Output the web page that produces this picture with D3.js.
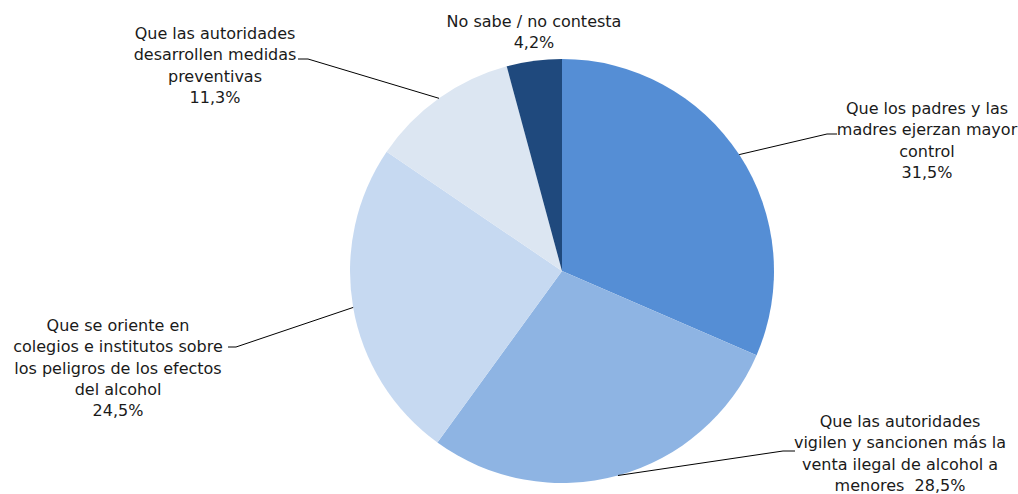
<!DOCTYPE html>
<html>
<head>
<meta charset="utf-8">
<script src="https://cdn.jsdelivr.net/npm/d3@7"></script>
<style>
  body { margin: 0; background: #fff; }
  text { font-family: "DejaVu Sans", sans-serif; font-size: 16px; fill: #1a1a1a; }
</style>
</head>
<body>
<div id="chart"></div>
<script>
// data, clockwise from 12 o'clock
var categories = [
  ["Que los padres y las", "madres ejerzan mayor", "control"],
  ["Que las autoridades", "vigilen y sancionen más la", "venta ilegal de alcohol a", "menores"],
  ["Que se oriente en", "colegios e institutos sobre", "los peligros de los efectos", "del alcohol"],
  ["Que las autoridades", "desarrollen medidas", "preventivas"],
  ["No sabe / no contesta"]
];
var values = [31.5, 28.5, 24.5, 11.3, 4.2];
var colors = ["#558ed5", "#8eb4e3", "#c6d9f1", "#dce6f2", "#1f497d"];

// label placement (label centre x, first line y, leader elbow + end)
var labelPos = [
  {x: 927, y: 108, elbow: [827, 134], end: [837, 134]},
  {x: 900, y: 421, elbow: [783, 451], end: [795, 451], inline: true},
  {x: 118, y: 325, elbow: [236, 347], end: [228, 347]},
  {x: 215, y: 33,  elbow: [308, 59],  end: [298, 59]},
  {x: 534, y: 21,  elbow: null}
];

var width = 1018, height = 494,
    cx = 562, cy = 271, radius = 212,
    lineH = 21.3;

var svg = d3.select("#chart").append("svg")
    .attr("width", width)
    .attr("height", height);

var pie = d3.pie().sort(null).value(function(d) { return d; });
var arcs = pie(values);

var arc = d3.arc().innerRadius(0).outerRadius(radius);
var edge = d3.arc().innerRadius(radius).outerRadius(radius);

var g = svg.append("g")
    .attr("transform", "translate(" + cx + "," + cy + ")");

g.selectAll("path.slice")
    .data(arcs)
    .enter().append("path")
    .attr("class", "slice")
    .attr("d", arc)
    .style("fill", function(d, i) { return colors[i]; });

var fmt = function(v) { return d3.format(".1f")(v).replace(".", ",") + "%"; };

// leader lines
arcs.forEach(function(d, i) {
  var p = labelPos[i];
  if (!p.elbow) return;
  var s = edge.centroid(d);
  svg.append("polyline")
      .attr("points", [[s[0] + cx, s[1] + cy], p.elbow, p.end].map(function(q) { return q.join(","); }).join(" "))
      .style("fill", "none")
      .style("stroke", "#000")
      .style("stroke-width", 1);
});

// labels
categories.forEach(function(lines, i) {
  var p = labelPos[i];
  var all = lines.slice();
  if (p.inline) all[all.length - 1] += "\u00a0\u00a0" + fmt(values[i]);
  else all.push(fmt(values[i]));
  var t = svg.append("text")
      .attr("text-anchor", "middle")
      .attr("dominant-baseline", "central");
  all.forEach(function(s, j) {
    t.append("tspan")
        .attr("x", p.x)
        .attr("y", p.y + j * lineH)
        .text(s);
  });
});
</script>
</body>
</html>
